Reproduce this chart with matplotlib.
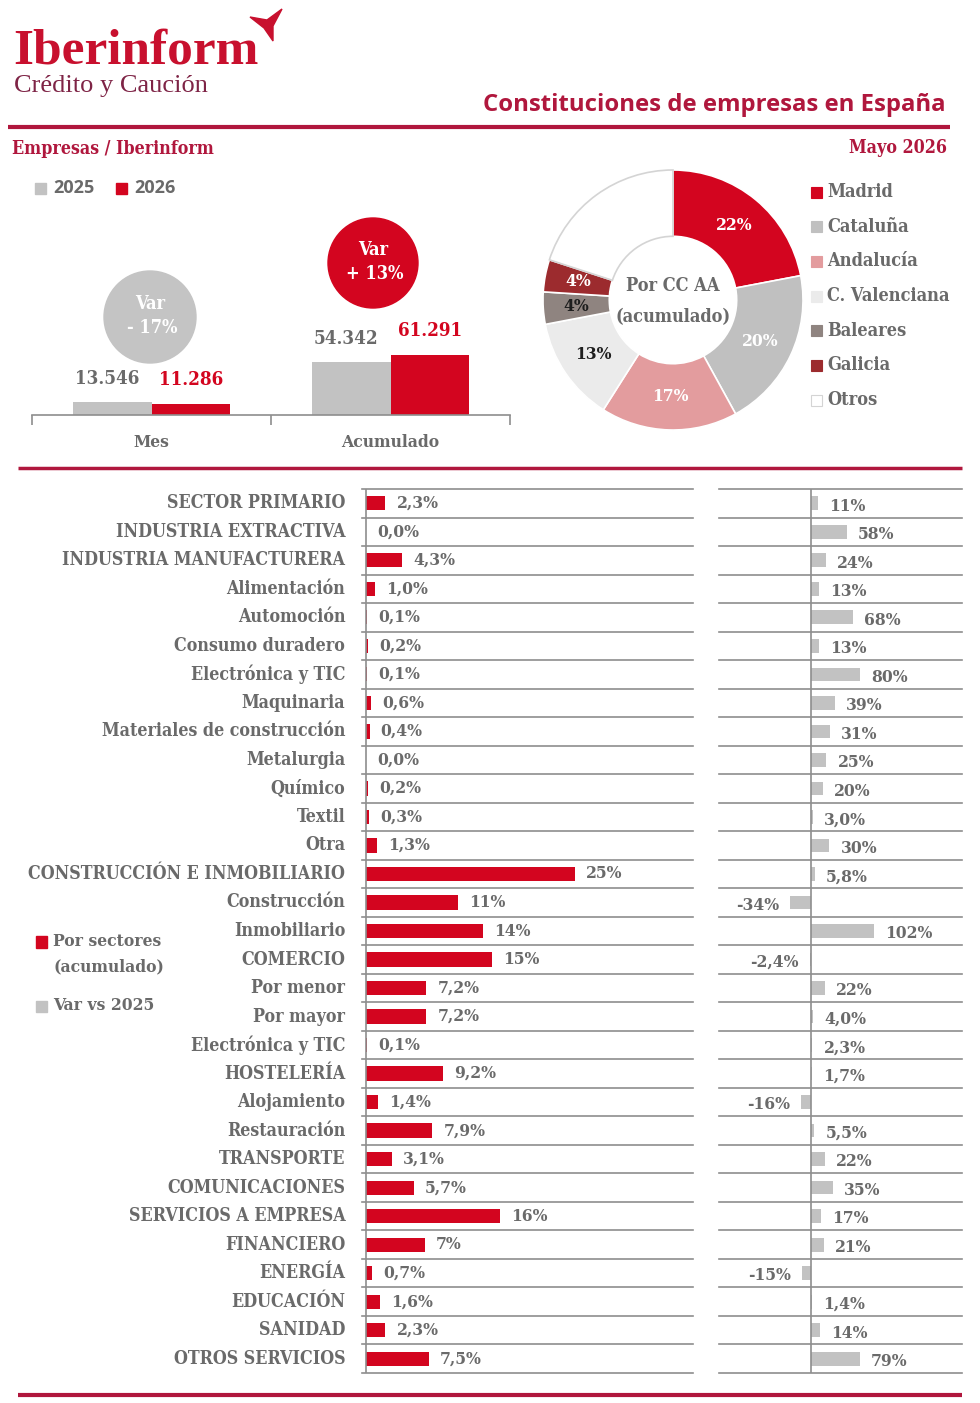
import numpy as np
import matplotlib
matplotlib.use("Agg")
import matplotlib.pyplot as plt
from matplotlib import font_manager
from matplotlib.font_manager import FontProperties
from matplotlib.patches import Circle, Rectangle, Polygon

#========================================================
# Data
#========================================================

periodos = ["Mes", "Acumulado"]
empresas_2025 = [13546, 54342]
empresas_2026 = [11286, 61291]

regiones = ["Madrid", "Cataluña", "Andalucía", "C. Valenciana", "Baleares", "Galicia", "Otros"]
cuota_regiones = [22, 20, 17, 13, 4, 4, 20]

sectores = ["SECTOR PRIMARIO", "INDUSTRIA EXTRACTIVA", "INDUSTRIA MANUFACTURERA",
            "Alimentación", "Automoción", "Consumo duradero", "Electrónica y TIC",
            "Maquinaria", "Materiales de construcción", "Metalurgia", "Químico",
            "Textil", "Otra", "CONSTRUCCIÓN E INMOBILIARIO", "Construcción",
            "Inmobiliario", "COMERCIO", "Por menor", "Por mayor", "Electrónica y TIC",
            "HOSTELERÍA", "Alojamiento", "Restauración", "TRANSPORTE",
            "COMUNICACIONES", "SERVICIOS A EMPRESA", "FINANCIERO", "ENERGÍA",
            "EDUCACIÓN", "SANIDAD", "OTROS SERVICIOS"]
# ints are shown without decimals, floats with one decimal
cuota_sectores = [2.3, 0.0, 4.3, 1.0, 0.1, 0.2, 0.1, 0.6, 0.4, 0.0, 0.2, 0.3, 1.3,
                  25, 11, 14, 15, 7.2, 7.2, 0.1, 9.2, 1.4, 7.9, 3.1, 5.7, 16, 7,
                  0.7, 1.6, 2.3, 7.5]
var_sectores = [11, 58, 24, 13, 68, 13, 80, 39, 31, 25, 20, 3.0, 30, 5.8, -34, 102,
                -2.4, 22, 4.0, 2.3, 1.7, -16, 5.5, 22, 35, 17, 21, -15, 1.4, 14, 79]

#========================================================
# Styles
#========================================================

W, H = 980, 1403
RED = "#d3051f"
DARKRED = "#b0173d"
GRAY = "#c2c2c2"
TXT = "#6a6a6a"
LINE = "#8e8e8e"
SERIF = ["Liberation Serif", "DejaVu Serif"]
SANS = ["Open Sans", "DejaVu Sans"]
colores_regiones = ["#d3051f", "#c0c0c0", "#e39c9e", "#ebebeb", "#8f8480", "#9c2b2e", "#ffffff"]
color_etiqueta = ["white", "white", "white", "#1e1e1e", "#1e1e1e", "white", None]

# heavier condensed slab-like serif if available
cond = [f.fname for f in font_manager.fontManager.ttflist
        if "SerifCondensed-Bold." in f.fname]


def sf(size):
    if cond:
        return dict(fontproperties=FontProperties(fname=cond[0], size=size * 0.93))
    return dict(family=SERIF, fontweight="bold", fontsize=size)


def px_rect(x0, y0, x1, y1):
    return [x0 / W, 1 - y1 / H, (x1 - x0) / W, (y1 - y0) / H]


def fmt(v):
    if isinstance(v, int):
        return f"{v}%"
    return f"{v:.1f}%".replace(".", ",")


fig = plt.figure(figsize=(W / 100, H / 100), dpi=100)
fig.patch.set_facecolor("white")

# background layer in pixel coordinates
bg = fig.add_axes([0, 0, 1, 1])
bg.set_xlim(0, W)
bg.set_ylim(H, 0)
bg.axis("off")

# header
bg.text(13, 63, "Iberinform", fontsize=37, fontweight="bold", family=SERIF, color="#c8102e", va="baseline")
bg.add_patch(Polygon([(250, 17), (267, 20), (282, 9), (273, 26), (273, 41), (264, 28)],
                     closed=True, color="#c8102e"))
bg.text(14, 86, "Crédito y Caución", fontsize=19, family=SERIF, color="#7e2446", va="center")
bg.text(945, 105, "Constituciones de empresas en España", fontsize=17.2, fontweight="bold",
        family=SANS, color=DARKRED, ha="right", va="center")
bg.plot([8, 950], [127, 127], color=DARKRED, lw=3, solid_capstyle="butt")
bg.text(12, 149, "Empresas / Iberinform", color=DARKRED, va="center", **sf(13.7))
bg.text(947, 148, "Mayo 2026", color=DARKRED, ha="right", va="center", **sf(13.7))
bg.plot([18, 962], [468, 468], color=DARKRED, lw=2.5, solid_capstyle="butt")
bg.plot([18, 962], [1395, 1395], color=DARKRED, lw=3, solid_capstyle="butt")

# legend 2025 / 2026
bg.add_patch(Rectangle((35, 183), 11, 11, color=GRAY))
bg.text(53, 188, "2025", fontsize=13, fontweight="bold", family=SANS, color=TXT, va="center")
bg.add_patch(Rectangle((116, 183), 11, 11, color=RED))
bg.text(134, 188, "2026", fontsize=13, fontweight="bold", family=SANS, color=TXT, va="center")

#========================================================
# Top bar chart
#========================================================

axb = fig.add_axes(px_rect(32, 160, 510, 415))
axb.patch.set_alpha(0)
xc = np.arange(len(periodos)) + 0.5
bw = 0.33
axb.bar(xc - bw / 2, empresas_2025, bw, color=GRAY)
axb.bar(xc + bw / 2, empresas_2026, bw, color=RED)
axb.set_xlim(0, 2)
axb.set_ylim(0, 260000)
for s in ["top", "left", "right"]:
    axb.spines[s].set_visible(False)
axb.spines["bottom"].set_color(LINE)
axb.spines["bottom"].set_linewidth(1.2)
axb.set_xticks([0, 1, 2], ["", "", ""])
axb.tick_params(axis="x", length=7, color=LINE, width=1.2)
axb.set_yticks([])
for i, name in enumerate(periodos):
    axb.annotate(name, (xc[i], 0), xytext=(0, -20), textcoords="offset points",
                 ha="center", va="center", color=TXT, **sf(13.5))
    v25, v26 = empresas_2025[i], empresas_2026[i]
    axb.annotate(f"{v25:,}".replace(",", "."), (xc[i] - bw / 2 - 0.02, v25), xytext=(0, 16),
                 textcoords="offset points", ha="center", va="center", color=TXT, **sf(14.5))
    axb.annotate(f"{v26:,}".replace(",", "."), (xc[i] + bw / 2, v26), xytext=(0, 17),
                 textcoords="offset points", ha="center", va="center", color=RED, **sf(14.5))

# variation bubbles
var_circ = [((150, 317), 46, "#c4c4c4"), ((373, 263), 45, RED)]
for (c, r, col), a, b in zip(var_circ, empresas_2025, empresas_2026):
    pct = round((b / a - 1) * 100)
    sign = "+" if pct >= 0 else "-"
    bg.add_patch(Circle(c, r, color=col, zorder=1))
    bg.text(c[0], c[1] - 13, "Var", color="white", ha="center", va="center", zorder=2, **sf(14))
    bg.text(c[0] + 2, c[1] + 11, f"{sign} {abs(pct)}%", color="white", ha="center",
            va="center", zorder=2, **sf(14))

#========================================================
# Donut by region
#========================================================

axp = fig.add_axes(px_rect(543, 170, 803, 430))
wedges, _ = axp.pie(cuota_regiones, colors=colores_regiones, startangle=90, counterclock=False,
                    radius=1, wedgeprops=dict(width=0.51, edgecolor="white", linewidth=1.2))
wedges[-1].set_edgecolor("#d4d4d4")
axp.set_xlim(-1, 1)
axp.set_ylim(-1, 1)
for w, v, col in zip(wedges, cuota_regiones, color_etiqueta):
    if col is None:
        continue
    ang = np.deg2rad((w.theta1 + w.theta2) / 2)
    axp.text(0.745 * np.cos(ang), 0.745 * np.sin(ang), f"{v}%", ha="center", va="center",
             color=col, **sf(13.5))
axp.text(0, 0.11, "Por CC AA", ha="center", va="center", color=TXT, **sf(14))
axp.text(0, -0.13, "(acumulado)", ha="center", va="center", color=TXT, **sf(14))

for i, (name, col) in enumerate(zip(regiones, colores_regiones)):
    yy = 192 + i * 34.7
    bg.add_patch(Rectangle((811, yy - 5.5), 11, 11, facecolor=col,
                           edgecolor="#d4d4d4" if col == "#ffffff" else col, lw=0.8))
    bg.text(827, yy, name, color=TXT, va="center", **sf(14))

#========================================================
# Sector bars
#========================================================

n = len(sectores)
y = np.arange(n)

axl = fig.add_axes(px_rect(362, 489, 693, 1373))
axl.barh(y, cuota_sectores, height=0.5, color=RED)
axl.set_xlim(-0.5, 39.1)
axl.set_ylim(n - 0.5, -0.5)
axl.axis("off")
axl.axvline(0, color=LINE, lw=1.2)
for b in np.arange(-0.5, n):
    axl.axhline(b, color=LINE, lw=1.2, clip_on=False)
for yi, (name, v) in enumerate(zip(sectores, cuota_sectores)):
    axl.annotate(name, (0, yi), xycoords=("axes fraction", "data"), xytext=(-12, 0),
                 textcoords="offset points", ha="right", va="center", color=TXT, **sf(13.7))
    axl.annotate(fmt(v), (max(v, 0), yi), xytext=(8, 0), textcoords="offset points",
                 ha="left", va="center", color=TXT, **sf(13.5))

axr = fig.add_axes(px_rect(719, 489, 962, 1373))
axr.barh(y, var_sectores, height=0.48, color=GRAY)
axr.set_xlim(-149.6, 245.5)
axr.set_ylim(n - 0.5, -0.5)
axr.axis("off")
axr.axvline(0, color=LINE, lw=1.2)
for b in np.arange(-0.5, n):
    axr.axhline(b, color=LINE, lw=1.2, clip_on=False)
for yi, v in enumerate(var_sectores):
    if v >= 0:
        axr.annotate(fmt(v), (v, yi), xytext=(8, -2), textcoords="offset points",
                     ha="left", va="center", color=TXT, **sf(13.5))
    else:
        axr.annotate(fmt(v), (v, yi), xytext=(-8, -2), textcoords="offset points",
                     ha="right", va="center", color=TXT, **sf(13.5))

# left legend
bg.add_patch(Rectangle((36, 936), 11, 12, color=RED))
bg.text(53, 941, "Por sectores", color=TXT, va="center", **sf(13.5))
bg.text(53, 967, "(acumulado)", color=TXT, va="center", **sf(13.5))
bg.add_patch(Rectangle((36, 1001), 11, 11, color=GRAY))
bg.text(53, 1006, "Var vs 2025", color=TXT, va="center", **sf(13.5))

fig.savefig("out.png", dpi=100, facecolor="white")
